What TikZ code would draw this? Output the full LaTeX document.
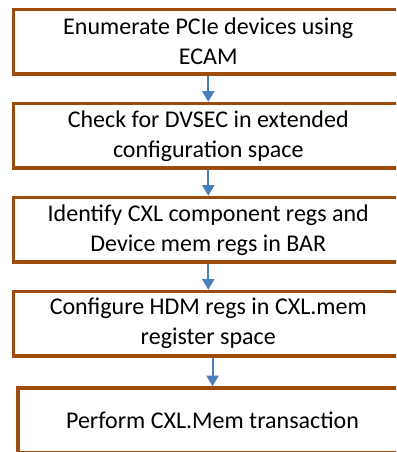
\documentclass[tikz,border=0pt]{standalone}
\usepackage{fontspec}
\setmainfont{Carlito}
\usepackage{tikz}
\usetikzlibrary{arrows.meta}
\usepackage{xcolor}
\definecolor{boxbrown}{RGB}{158,75,14}
\definecolor{arrowblue}{RGB}{74,126,187}

\tikzset{
  stepbox/.style={draw=boxbrown, line width=2.6pt, fill=white, rectangle,
    minimum width=292pt, minimum height=48.4pt, inner sep=0pt,
    align=center, font=\fontsize{18}{22.5}\selectfont},
  flow/.style={draw=arrowblue, line width=1.5pt, -{Triangle[width=9pt, length=8pt]}}
}

\begin{document}
\begin{tikzpicture}[x=0.75pt, y=-0.75pt]
\useasboundingbox (0,0) rectangle (396,452);
\clip (0,0) rectangle (396,452);

\node[stepbox] (s1) at (208.25,41.75) {Enumerate PCIe devices using\\ECAM};
\node[stepbox] (s2) at (208.25,135.75) {Check for DVSEC in extended\\configuration space};
\node[stepbox] (s3) at (208.25,229.75) {Identify CXL component regs and\\Device mem regs in BAR};
\node[stepbox] (s4) at (208.25,323.75) {Configure HDM regs in CXL.mem\\register space};
\node[stepbox] (s5) at (212.5,420.25) {Perform CXL.Mem transaction};

\foreach \i/\j in {s1/s2, s2/s3, s3/s4}
\draw[flow] (\i.south) -- (\j.north);
\draw[flow] (s4.south -| s5.north) -- (s5.north);

\end{tikzpicture}
\end{document}
